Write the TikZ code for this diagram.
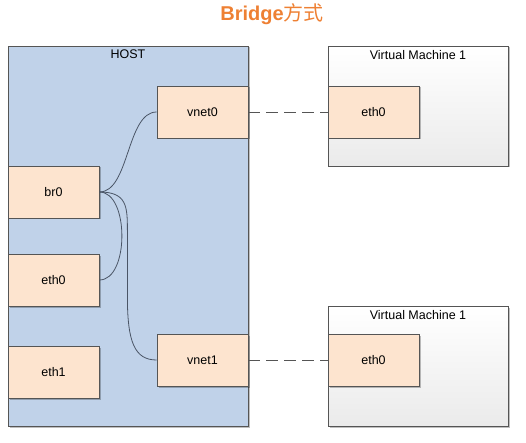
\documentclass[tikz,border=0pt]{standalone}
\usepackage{fontspec}
\setmainfont{Liberation Sans}
\newfontfamily\cjkfont{Noto Sans CJK SC}
\usepackage{xcolor}
\usepackage{tikz}
\usetikzlibrary{positioning,calc,shadows}
\definecolor{hostblue}{HTML}{C0D2E9}
\definecolor{ifpeach}{HTML}{FDE4CF}
\definecolor{edgegray}{HTML}{555555}
\definecolor{linkslate}{HTML}{4A5566}
\definecolor{titleorange}{HTML}{EE8033}
\tikzset{
  boxshadow/.style={drop shadow={shadow xshift=1.5pt, shadow yshift=-1.5pt, opacity=0.25, fill=black}},
  link/.style={draw=linkslate, line width=0.8pt},
  vmlink/.style={draw=edgegray, line width=0.8pt, dash pattern=on 12pt off 6pt},
}
\newcommand{\IfaceNode}[3]{%
  \node[draw=edgegray, line width=0.8pt, fill=ifpeach, boxshadow, minimum width=91pt, minimum height=52pt,
        inner sep=0pt, font=\fontsize{12.5}{14}\selectfont] (#1) at #2 {#3};
}
\newcommand{\VmBox}[3]{%
  \node[draw=edgegray, line width=0.8pt, top color=white, bottom color=black!8, boxshadow,
        minimum width=180pt, minimum height=120pt, inner sep=0pt] (#1) at #2 {};
  \node[below=1pt of #1.north, font=\fontsize{12.5}{14}\selectfont] {#3};
}

\begin{document}
\begin{tikzpicture}[x=1pt, y=-1pt]
  \useasboundingbox (0,0) rectangle (526,443);
  \node[font=\fontsize{20}{24}\selectfont, text=titleorange] (title) at (272,14) {\textbf{Bridge}{\cjkfont 方式}};
  % host
  \node[draw=edgegray, line width=0.8pt, fill=hostblue, boxshadow, minimum width=240pt, minimum height=380pt,
        inner sep=0pt] (host) at (128,236) {};
  \node[below=1pt of host.north, font=\fontsize{12.5}{14}\selectfont] (hostlabel) {HOST};
  \IfaceNode{vnet0}{(202.5,112)}{vnet0}
  \IfaceNode{br0}{(53.5,192)}{br0}
  \IfaceNode{eth0}{(53.5,280)}{eth0}
  \IfaceNode{eth1}{(53.5,372)}{eth1}
  \IfaceNode{vnet1}{(202.5,360)}{vnet1}
  % virtual machines
  \VmBox{vma}{(418,106)}{Virtual Machine 1}
  \VmBox{vmb}{(418,366)}{Virtual Machine 1}
  \IfaceNode{vmaeth}{(373.5,112)}{eth0}
  \IfaceNode{vmbeth}{(373.5,360)}{eth0}
  % links
  \draw[link] (br0.east) .. controls +(30,0) and +(-30,0) .. (vnet0.west);
  \draw[link] (br0.east) .. controls +(30,0) and +(30,0) .. (eth0.east);
  \coordinate (bendtop) at ($(br0.east)+(28,40)$);
  \coordinate (bendbot) at ($(br0.east)+(28,105)$);
  \draw[link] (br0.east) .. controls +(28,0) and +(0,-25) .. (bendtop) -- (bendbot)
    .. controls +(0,45) and +(-22,0) .. (vnet1.west);
  \draw[vmlink] (vnet0.east) -- (vmaeth.west);
  \draw[vmlink] (vnet1.east) -- (vmbeth.west);
\end{tikzpicture}
\end{document}
